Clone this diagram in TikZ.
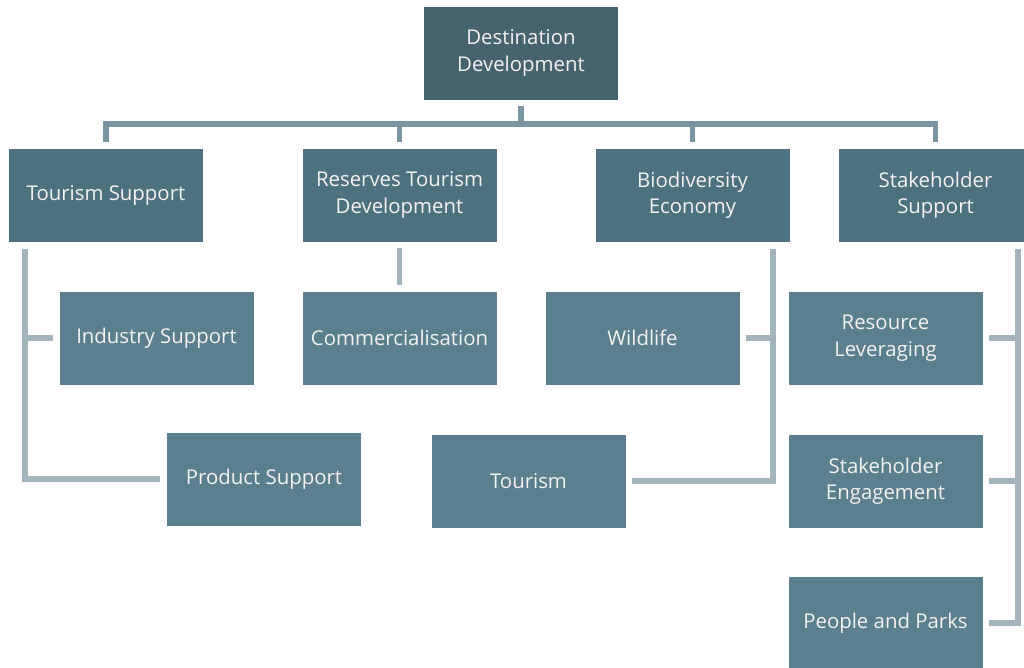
\documentclass[tikz,border=0pt]{standalone}
\usepackage{fontspec}
\setmainfont{Open Sans}
\usepackage{xcolor}
\usetikzlibrary{positioning}

\definecolor{toptier}{HTML}{46646F}
\definecolor{midtier}{HTML}{4E717F}
\definecolor{lowtier}{HTML}{5B7F8F}
\definecolor{busline}{HTML}{7A96A2}
\definecolor{subline}{HTML}{A3B4BC}

\tikzset{
  box/.style={rectangle, draw=white, line width=0.4pt, text=white!95!black,
    minimum width=3.9cm, minimum height=1.88cm, align=center,
    font=\fontsize{11.6}{15}\selectfont},
  topbox/.style={box, fill=toptier},
  midbox/.style={box, fill=midtier},
  lowbox/.style={box, fill=lowtier},
  busedge/.style={draw=busline, line width=3.4pt},
  subedge/.style={draw=subline, line width=3.4pt},
}

\begin{document}
\begin{tikzpicture}[x=0.02cm, y=-0.02cm]
	\clip (0,0) rectangle (1024,668);

	% top of the chart
	\node[topbox](dest) at (521,53) {Destination\\Development};

	% second row
	\node[midbox](tsup) at (106,195) {Tourism Support};
	\node[midbox](rtd) at (399.5,195) {Reserves Tourism\\Development};
	\node[midbox](bio) at (692.5,195) {Biodiversity\\Economy};
	\node[midbox](stake) at (935.5,195) {Stakeholder\\Support};

	% third row
	\node[lowbox](ind) at (156.5,338) {Industry Support};
	\node[lowbox](comm) at (399.5,338) {Commercialisation};
	\node[lowbox](wild) at (642.5,338) {Wildlife};
	\node[lowbox](res) at (885.5,338) {Resource\\Leveraging};

	% fourth row
	\node[lowbox](prod) at (264,479) {Product Support};
	\node[lowbox](tour) at (528.5,481) {Tourism};
	\node[lowbox](seng) at (885.5,481) {Stakeholder\\Engagement};

	% fifth row
	\node[lowbox](ppl) at (885.5,623) {People and Parks};

	% junctions
	\coordinate (bus) at (521,124);
	\coordinate (tsspine) at (25,249);
	\coordinate (biospine) at (773,249);
	\coordinate (stspine) at (1018,249);

	% main bus
	\draw[busedge, shorten <=0.12cm] (dest) -- (bus);
	\draw[busedge, shorten >=0.12cm] (bus) -| (tsup);
	\draw[busedge, shorten >=0.12cm] (bus) -| (rtd);
	\draw[busedge, shorten >=0.12cm] (bus) -| (bio);
	\draw[busedge, shorten >=0.12cm] (bus) -| (stake);

	% Tourism Support branch
	\draw[subedge, shorten >=0.12cm] (tsspine) |- (prod);
	\draw[subedge, shorten <=0.12cm] (ind) -- (ind -| tsspine);

	% Reserves branch
	\draw[subedge, shorten <=0.12cm, shorten >=0.12cm] (rtd) -- (comm);

	% Biodiversity branch
	\draw[subedge, shorten >=0.12cm] (biospine) |- (tour);
	\draw[subedge, shorten <=0.12cm] (wild) -- (wild -| biospine);

	% Stakeholder branch
	\draw[subedge, shorten >=0.12cm] (stspine) |- (ppl);
	\draw[subedge, shorten <=0.12cm] (res) -- (res -| stspine);
	\draw[subedge, shorten <=0.12cm] (seng) -- (seng -| stspine);
\end{tikzpicture}
\end{document}
